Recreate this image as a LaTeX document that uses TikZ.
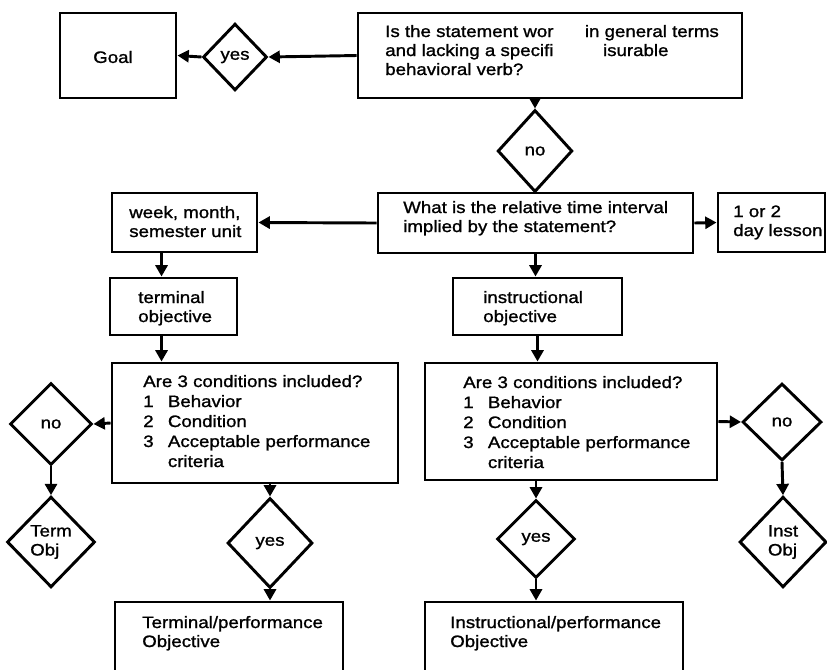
\documentclass[tikz,border=0pt]{standalone}
\usepackage{fontspec}
\setmainfont[FakeStretch=1.13,FakeBold=1.2]{Liberation Sans}
\usetikzlibrary{arrows.meta,shapes.geometric,fit}
\tikzset{
  box/.style={draw, line width=2.2pt, inner sep=0pt, rectangle},
  dia/.style={draw, line width=2.2pt, diamond, inner sep=0pt, align=left,
    font=\fontsize{12.4}{14.25}\selectfont},
  txt/.style={inner sep=0pt, align=left, anchor=base west,
    font=\fontsize{12.4}{14.25}\selectfont},
  arr/.style={line width=2.2pt, -{Triangle[length=8.5pt,width=9pt]}}
}
\newcommand{\itm}[1]{\makebox[18.5pt][l]{#1}}
\begin{document}
\begin{tikzpicture}[x=0.75pt,y=-0.75pt]
\useasboundingbox (0,0) rectangle (827,669);
\clip (0,0) rectangle (827,669);
% top row (text anchors are at the baseline of the last line)
\node[box, fit={(60,13) (176,98)}] (goal) {};
\node[txt, anchor=center] (goalt) at (113,57) {Goal};
\node[dia, minimum width=48pt, minimum height=50pt] (yes1) at (235,57) {yes};
\node[box, fit={(358,13) (742,98)}] (q) {};
\node[txt] (qt) at (385,75)
  {Is the statement wor\hspace{1.9em}in general terms\\and lacking a specifi\hspace{3em}isurable\\behavioral verb?};
\node[dia, minimum width=56pt, minimum height=61.5pt] (no1) at (535,151) {no};
% second row
\node[box, fit={(378,193) (693,253)}] (what) {};
\node[txt] (whatt) at (403,232) {What is the relative time interval\\implied by the statement?};
\node[box, fit={(112,193) (257,252)}] (week) {};
\node[txt] (weekt) at (129,237) {week, month,\\semester unit};
\node[box, fit={(718,193) (825,252)}] (day) {};
\node[txt] (dayt) at (733,236) {1 or 2\\day lesson};
% third row
\node[box, fit={(110,278) (237,335)}] (term) {};
\node[txt] (termt) at (138,322) {terminal\\objective};
\node[box, fit={(453,278) (622,335)}] (instr) {};
\node[txt] (instrt) at (483,322) {instructional\\objective};
% condition boxes
\node[box, fit={(112,363) (398,483)}] (condL) {};
\node[txt, font=\fontsize{12.4}{15}\selectfont] (condLt) at (143,467)
  {Are 3 conditions included?\\\itm{1}Behavior\\\itm{2}Condition\\\itm{3}Acceptable performance\\\itm{}criteria};
\node[box, fit={(425,363) (717,480)}] (condR) {};
\node[txt, font=\fontsize{12.4}{15}\selectfont] (condRt) at (463,468)
  {Are 3 conditions included?\\\itm{1}Behavior\\\itm{2}Condition\\\itm{3}Acceptable performance\\\itm{}criteria};
% diamonds
\node[dia, minimum width=61.5pt, minimum height=61.5pt] (noL) at (51,424) {no};
\node[dia, minimum width=66pt, minimum height=68pt] (termobj) at (51,542) {Term\\Obj};
\node[dia, minimum width=63.75pt, minimum height=67.5pt] (yesL) at (270,543) {yes};
\node[dia, minimum width=58.5pt, minimum height=58.5pt] (yesR) at (536,539) {yes};
\node[dia, minimum width=59.25pt, minimum height=57.75pt] (noR) at (782,422) {no};
\node[dia, minimum width=65.25pt, minimum height=68pt] (instobj) at (783,542) {Inst\\Obj};
% bottom boxes
\node[box, fit={(115,602) (343,700)}] (tp) {};
\node[txt] (tpt) at (142,647) {Terminal/performance\\Objective};
\node[box, fit={(425,602) (683,700)}] (ip) {};
\node[txt] (ipt) at (450,647) {Instructional/performance\\Objective};
% connectors
\draw[arr] (q.west) -- (yes1.east);
\draw[arr] (yes1.west) -- (goal.east);
\draw[arr] (no1.north |- q.south) -- (no1.north);
\draw[arr] (what.west) -- (week.east);
\draw[arr] (what.east) -- (day.west);
\draw[arr] ([xshift=38.25pt]week.south west) -- ([xshift=38.25pt]week.south west |- term.north);
\draw[arr] (what.south) -- (what.south |- instr.north);
\draw[arr] ([xshift=39.75pt]term.south west) -- ([xshift=39.75pt]term.south west |- condL.north);
\draw[arr] (instr.south) -- (instr.south |- condR.north);
\draw[arr] (condL.west) -- (noL.east);
\draw[arr] (noL.south) -- (termobj.north);
\draw[arr] (yesL.north |- condL.south) -- (yesL.north);
\draw[arr] (yesL.south) -- (yesL.south |- tp.north);
\draw[arr] (yesR.north |- condR.south) -- (yesR.north);
\draw[arr] (yesR.south) -- (yesR.south |- ip.north);
\draw[arr] (condR.east) -- (noR.west);
\draw[arr] (noR.south) -- (instobj.north);
\end{tikzpicture}
\end{document}
